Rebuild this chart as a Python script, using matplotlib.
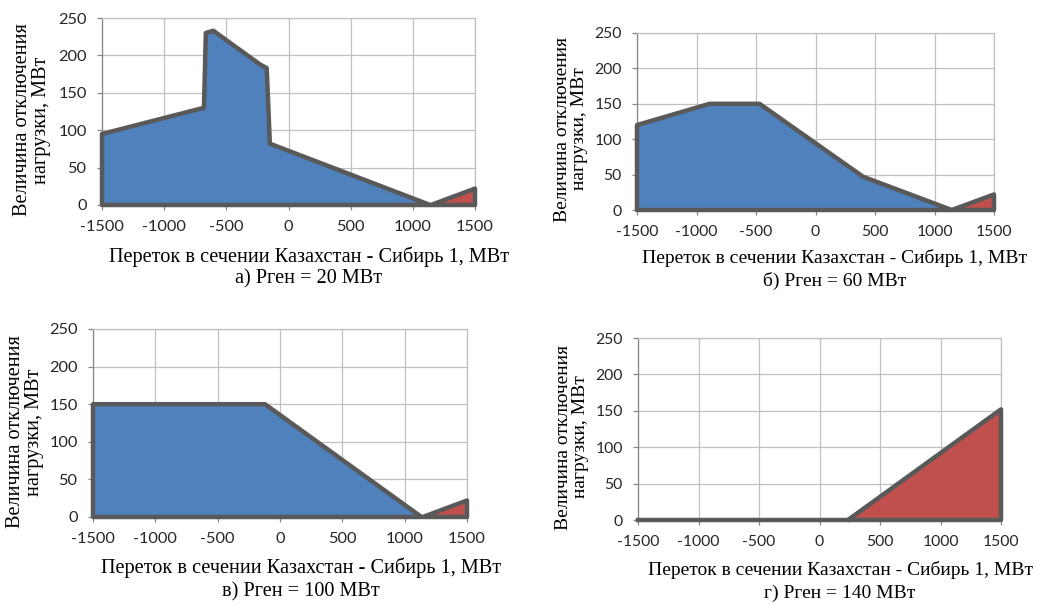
import matplotlib.pyplot as plt

plt.rcParams["axes.unicode_minus"] = False

# flow through the Kazakhstan - Siberia 1 section, MW, and load shedding, MW
flow_a = [-1500, -680, -665, -605, -230, -175, -150, 1140]
shed_a = [95, 130, 230, 233, 188, 183, 82, 0]
flow_b = [-1500, -890, -470, 400, 1145]
shed_b = [120, 150, 150, 47, 0]
flow_c = [-1500, -120, 1135]
shed_c = [150, 150, 0]
flow_d = [-1500, 235]
shed_d = [0, 0]

# second series (red) - shedding on the other side
excess_x_abc = [1145, 1500]
excess_y_abc = [0, 22]
excess_x_d = [235, 1500]
excess_y_d = [0, 152]

captions = ["а) Pген = 20 МВт", "б) Pген = 60 МВт", "в) Pген = 100 МВт", "г) Pген = 140 МВт"]
xlabel = "Переток в сечении Казахстан - Сибирь 1, МВт"
ylabel = "Величина отключения\nнагрузки, МВт"
xticks = [-1500, -1000, -500, 0, 500, 1000, 1500]
yticks = [0, 50, 100, 150, 200, 250]

W, H = 1037, 604
BLUE = "#4F81BD"
RED = "#C0504D"
EDGE = "#595959"
GRID = "#C0C0C0"

# pixel boxes: left, right, top, bottom of plot area
boxes = [(102, 475, 18, 205), (637, 994, 33, 210), (93, 467, 329, 517), (638, 1001, 338, 520)]
# pixel positions: x-label (x, y), caption y, y-label x
text_pos = [(309, 257, 279, 32), (835, 258, 281, 571), (301, 568, 592, 25), (840, 570, 593, 572)]
ylab_y = [120, 129, 432, 437]
scale = [1.0, 0.96, 1.0, 0.96]

series = [(flow_a, shed_a, excess_x_abc, excess_y_abc),
          (flow_b, shed_b, excess_x_abc, excess_y_abc),
          (flow_c, shed_c, excess_x_abc, excess_y_abc),
          (flow_d, shed_d, excess_x_d, excess_y_d)]

fig = plt.figure(figsize=(W / 100, H / 100), dpi=100)

for i in range(4):
    l, r, t, b = boxes[i]
    s = scale[i]
    ax = fig.add_axes([l / W, 1 - b / H, (r - l) / W, (b - t) / H])
    fx, fy, ex, ey = series[i]

    # blue area with outline (closed along zero line)
    px = [fx[0]] + fx + [fx[-1]]
    py = [0] + fy + [0]
    if max(fy) > 0:
        ax.fill(px, py, facecolor=BLUE, edgecolor=EDGE, lw=3.2, joinstyle="round",
                clip_on=False, zorder=3)
    else:
        ax.plot(fx, fy, color=EDGE, lw=3.2, clip_on=False, zorder=3)

    # red area
    rx = [ex[0]] + ex[1:] + [ex[-1]]
    ry = [0] + ey[1:] + [0]
    ax.fill(rx, ry, facecolor=RED, edgecolor=EDGE, lw=3.2, joinstyle="round",
            clip_on=False, zorder=3)

    ax.set_xlim(-1500, 1500)
    ax.set_ylim(0, 250)
    ax.set_xticks(xticks)
    ax.set_yticks(yticks)
    ax.grid(True, color=GRID, lw=0.9)
    ax.set_axisbelow(True)
    for sp in ["top", "right"]:
        ax.spines[sp].set_color(GRID)
        ax.spines[sp].set_linewidth(0.9)
    for sp in ["left", "bottom"]:
        ax.spines[sp].set_color("#868686")
        ax.spines[sp].set_linewidth(0.9)
    ax.tick_params(direction="out", length=3.6, width=0.9, color="#868686",
                   labelsize=11.8 * s, labelcolor="#262626")
    ax.tick_params(axis="x", pad=7)
    ax.tick_params(axis="y", pad=7.5)
    for lab in ax.get_xticklabels() + ax.get_yticklabels():
        lab.set_fontfamily("Lato")

    xl, yl, cy, ylx = text_pos[i]
    fs = 14.6 * s
    fig.text(xl / W, 1 - yl / H, xlabel, ha="center", va="center",
             fontsize=fs, family="Liberation Serif")
    fig.text(xl / W, 1 - cy / H, captions[i], ha="center", va="center",
             fontsize=fs, family="Liberation Serif")
    fig.text(ylx / W, 1 - ylab_y[i] / H, ylabel, ha="center", va="center",
             rotation=90, multialignment="center", linespacing=1.0,
             fontsize=fs, family="Liberation Serif")

fig.savefig("out.png", dpi=100)
